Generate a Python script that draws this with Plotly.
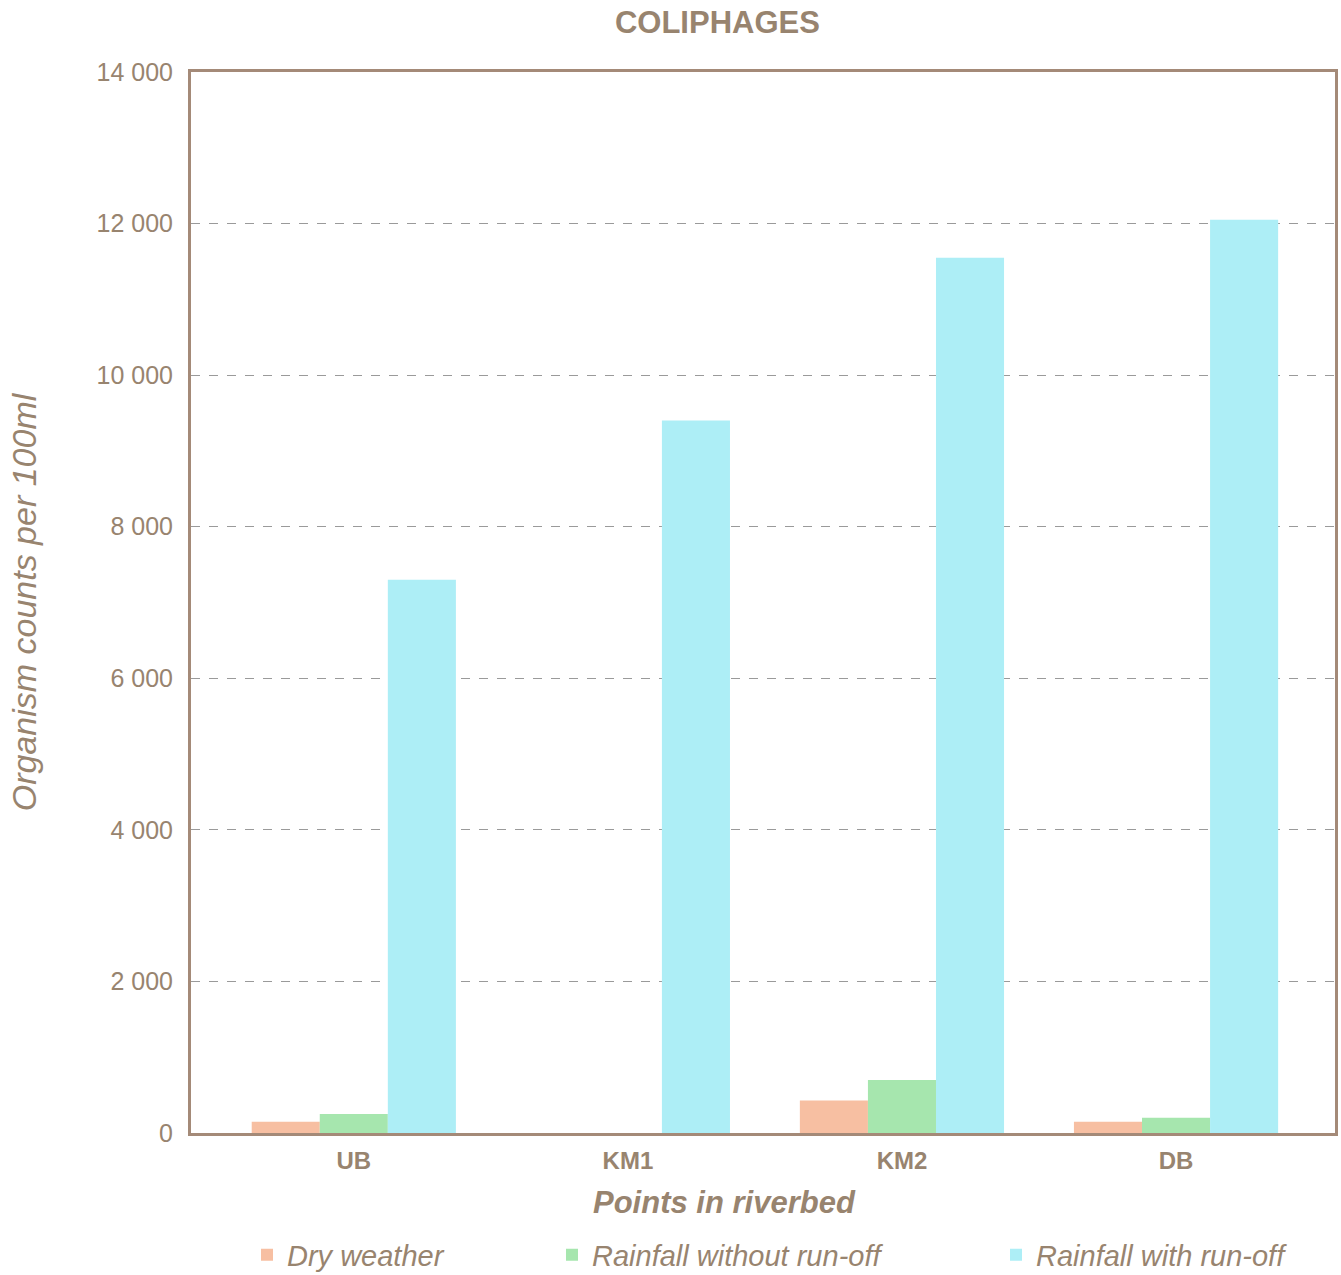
import plotly.graph_objects as go

# Sampling points along the riverbed
points = ["UB", "KM1", "KM2", "DB"]

# Coliphage counts per 100 ml for each weather condition
dry_weather = [150, 0, 430, 150]
rain_no_runoff = [250, 0, 700, 200]
rain_runoff = [7300, 9400, 11550, 12050]

series_names = ["Dry weather", "Rainfall without run-off", "Rainfall with run-off"]
series_colors = ["#F7BFA2", "#A6E6AE", "#ADEEF6"]

TEXT = "#98846F"
AXIS = "#A48A78"
FONT = "Liberation Sans, Arial, sans-serif"

L, T, R, B = 191, 72, 6, 142
W, H = 1341, 1275
PW = W - L - R

fig = go.Figure()
legend_ids = ["legend", "legend2", "legend3"]
for name, vals, col, lid in zip(series_names, [dry_weather, rain_no_runoff, rain_runoff],
                                series_colors, legend_ids):
    fig.add_trace(go.Bar(x=points, y=vals, name=name, marker=dict(color=col, line=dict(width=0)),
                         legend=lid, showlegend=True))

legend_style = dict(orientation="h", yanchor="middle", xanchor="left", y=-0.115,
                    font=dict(family=FONT, size=29, color=TEXT, style="italic"),
                    bgcolor="rgba(0,0,0,0)", itemwidth=30, visible=True)

fig.update_layout(
    width=W, height=H,
    margin=dict(l=L, r=R, t=T, b=B, autoexpand=False),
    paper_bgcolor="white", plot_bgcolor="white",
    showlegend=True,
    separators=". ",
    barmode="group", bargap=0.255, bargroupgap=0,
    font=dict(family=FONT, color=TEXT),
    title=dict(text="<b>COLIPHAGES</b>", x=0.535, xanchor="center", y=0.983, yanchor="middle",
               font=dict(size=31, color=TEXT, family=FONT)),
    legend=dict(legend_style, x=(247 - L) / PW),
    legend2=dict(legend_style, x=(552 - L) / PW),
    legend3=dict(legend_style, x=(996 - L) / PW),
    xaxis=dict(range=[-0.594, 3.58], showline=True, linecolor=AXIS, linewidth=3, mirror=True,
               ticks="", ticklabelstandoff=4,
               tickfont=dict(size=24, color=TEXT, family=FONT, weight="bold")),
    yaxis=dict(range=[0, 14000], tickvals=[0, 2000, 4000, 6000, 8000, 10000, 12000, 14000],
               tickformat=",d", showline=True, linecolor=AXIS, linewidth=3, mirror=True,
               ticks="", ticklabelstandoff=10,
               tickfont=dict(size=25, color=TEXT, family=FONT),
               showgrid=True, gridcolor="#9A9A9A", griddash="dash", gridwidth=1,
               zeroline=False,
               title=dict(text="<i>Organism counts per 100ml</i>", standoff=50,
                          font=dict(size=34, color=TEXT, family=FONT))),
    annotations=[dict(text="<b><i>Points in riverbed</i></b>", xref="paper", yref="paper",
                      x=(724 - L) / PW, y=-(1203 - (H - B)) / (H - T - B),
                      xanchor="center", yanchor="middle", showarrow=False,
                      font=dict(size=31, color=TEXT, family=FONT))],
)

fig.write_html("out.html")
